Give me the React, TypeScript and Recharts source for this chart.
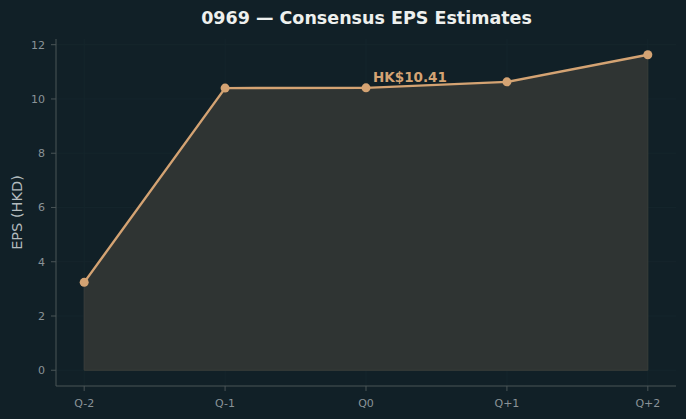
import React from "react";
import {
  ComposedChart,
  Area,
  Line,
  XAxis,
  YAxis,
  CartesianGrid,
  ReferenceDot,
  ReferenceLine,
} from "recharts";

const quarters = ["Q-2", "Q-1", "Q0", "Q+1", "Q+2"];
const epsValues = [3.24, 10.4, 10.41, 10.63, 11.63];
const yTicks = [0, 2, 4, 6, 8, 10, 12];
const xTicks = [0, 1, 2, 3, 4];
const highlightIndex = 2;
const highlightLabel = "HK$10.41";

const data = quarters.map((q, i) => ({ i, q, eps: epsValues[i] }));

const LINE = "#d4a373";
const FILL = "#2f3433";
const TICK = "#8a9397";
const SPINE = "#4a5457";
const GRID = "#15252c";
const EDGE = "#3a3e3a";
const FONT = "'DejaVu Sans', sans-serif";

const HighlightLabel = (props: any) => {
  const vb = props.viewBox || {};
  const x = (vb.x ?? 0) + (vb.width ?? 0) / 2;
  const y = (vb.y ?? 0) + (vb.height ?? 0) / 2;
  return (
    <text
      x={x + 7}
      y={y - 6}
      fill={LINE}
      fontFamily={FONT}
      fontWeight="bold"
      fontSize={13.5}
    >
      {highlightLabel}
    </text>
  );
};

const YLabel = (props: any) => {
  const vb = props.viewBox || {};
  const cy = (vb.y ?? 0) + (vb.height ?? 0) / 2;
  const x = 21.5;
  return (
    <text
      x={x}
      y={cy}
      transform={`rotate(-90, ${x}, ${cy})`}
      textAnchor="middle"
      fill="#b3bbbe"
      fontFamily={FONT}
      fontSize={14.5}
    >
      EPS (HKD)
    </text>
  );
};

export default function App() {
  return (
    <div
      style={{
        position: "fixed",
        left: 0,
        top: 0,
        width: 686,
        height: 419,
        background: "#112027",
        overflow: "hidden",
      }}
    >
      <div
        style={{
          position: "absolute",
          left: 56,
          width: 621,
          top: 8,
          textAlign: "center",
          fontFamily: FONT,
          fontWeight: "bold",
          fontSize: 17.5,
          color: "#eef0ee",
          whiteSpace: "nowrap",
        }}
      >
        0969 — Consensus EPS Estimates
      </div>
      <ComposedChart
        width={686}
        height={419}
        data={data}
        margin={{ top: 39, right: 10, bottom: 0, left: 0 }}
      >
        <CartesianGrid
          stroke={GRID}
          strokeWidth={1}
          horizontalValues={yTicks}
          verticalValues={xTicks}
        />
        <XAxis
          dataKey="i"
          type="number"
          domain={[-0.2, 4.2]}
          ticks={xTicks}
          tickFormatter={(v: number) => quarters[v]}
          height={33}
          stroke={SPINE}
          tickLine={{ stroke: SPINE }}
          tickSize={5}
          tickMargin={8}
          tick={{ fill: TICK, fontSize: 11, fontFamily: FONT }}
          allowDataOverflow
        />
        <YAxis
          type="number"
          domain={[-0.58, 12.21]}
          ticks={yTicks}
          width={56}
          stroke={SPINE}
          tickLine={{ stroke: SPINE }}
          tickSize={5}
          tickMargin={6}
          tick={{ fill: TICK, fontSize: 11, fontFamily: FONT }}
          allowDataOverflow
          label={<YLabel />}
        />
        <Area
          dataKey="eps"
          type="linear"
          baseValue={0}
          fill={FILL}
          fillOpacity={1}
          stroke="none"
          isAnimationActive={false}
        />
        <ReferenceLine
          segment={[
            { x: 0, y: 0 },
            { x: 4, y: 0 },
          ]}
          stroke={EDGE}
          strokeWidth={1}
        />
        <ReferenceLine
          segment={[
            { x: 0, y: 0 },
            { x: 0, y: epsValues[0] },
          ]}
          stroke={EDGE}
          strokeWidth={1}
        />
        <ReferenceLine
          segment={[
            { x: 4, y: 0 },
            { x: 4, y: epsValues[4] },
          ]}
          stroke={EDGE}
          strokeWidth={1}
        />
        <Line
          dataKey="eps"
          type="linear"
          stroke={LINE}
          strokeWidth={2.4}
          dot={{ r: 4.5, fill: LINE, stroke: LINE, strokeWidth: 0 }}
          activeDot={false}
          isAnimationActive={false}
        />
        <ReferenceDot
          x={highlightIndex}
          y={epsValues[highlightIndex]}
          r={0}
          fill="none"
          stroke="none"
          label={<HighlightLabel />}
        />
      </ComposedChart>
    </div>
  );
}
